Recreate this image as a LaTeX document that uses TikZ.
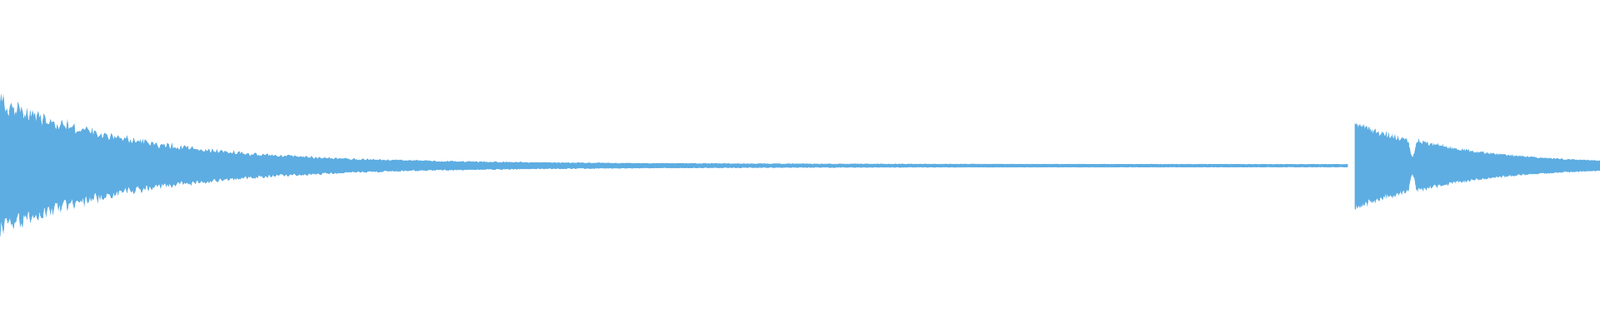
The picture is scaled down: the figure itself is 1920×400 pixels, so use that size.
\documentclass[tikz,border=0pt]{standalone}
\definecolor{wavec}{HTML}{5DADE2}
\begin{document}
\begin{tikzpicture}[x=0.01cm,y=0.01cm,
  wave/.style={fill=wavec,draw=wavec,line width=0.2pt},
  declare function={
    envl(\x)=70*exp(-\x/160)+3*exp(-\x/600)+1.2;
    envr(\x)=ifthenelse(\x<1690,48*exp(-(\x-1626)/130),ifthenelse(\x<1700,29-19*sin(18*(\x-1690)),27*exp(-(\x-1700)/110)+2));
  }]
\useasboundingbox (0,0) rectangle (1920,400);
\fill[white] (0,0) rectangle (1920,400);
\fill[wave] plot[domain=0:1617,samples=1200] (\x,{201+envl(\x)*(1+0.16*rand)})
  -- plot[domain=1617:0,samples=1200] (\x,{201-envl(\x)*(1+0.16*rand)}) -- cycle;
\fill[wave] plot[domain=1626:1920,samples=400] (\x,{201+envr(\x)*(1+0.1*rand)})
  -- plot[domain=1920:1626,samples=400] (\x,{201-envr(\x)*(1+0.1*rand)}) -- cycle;
\end{tikzpicture}
\end{document}
